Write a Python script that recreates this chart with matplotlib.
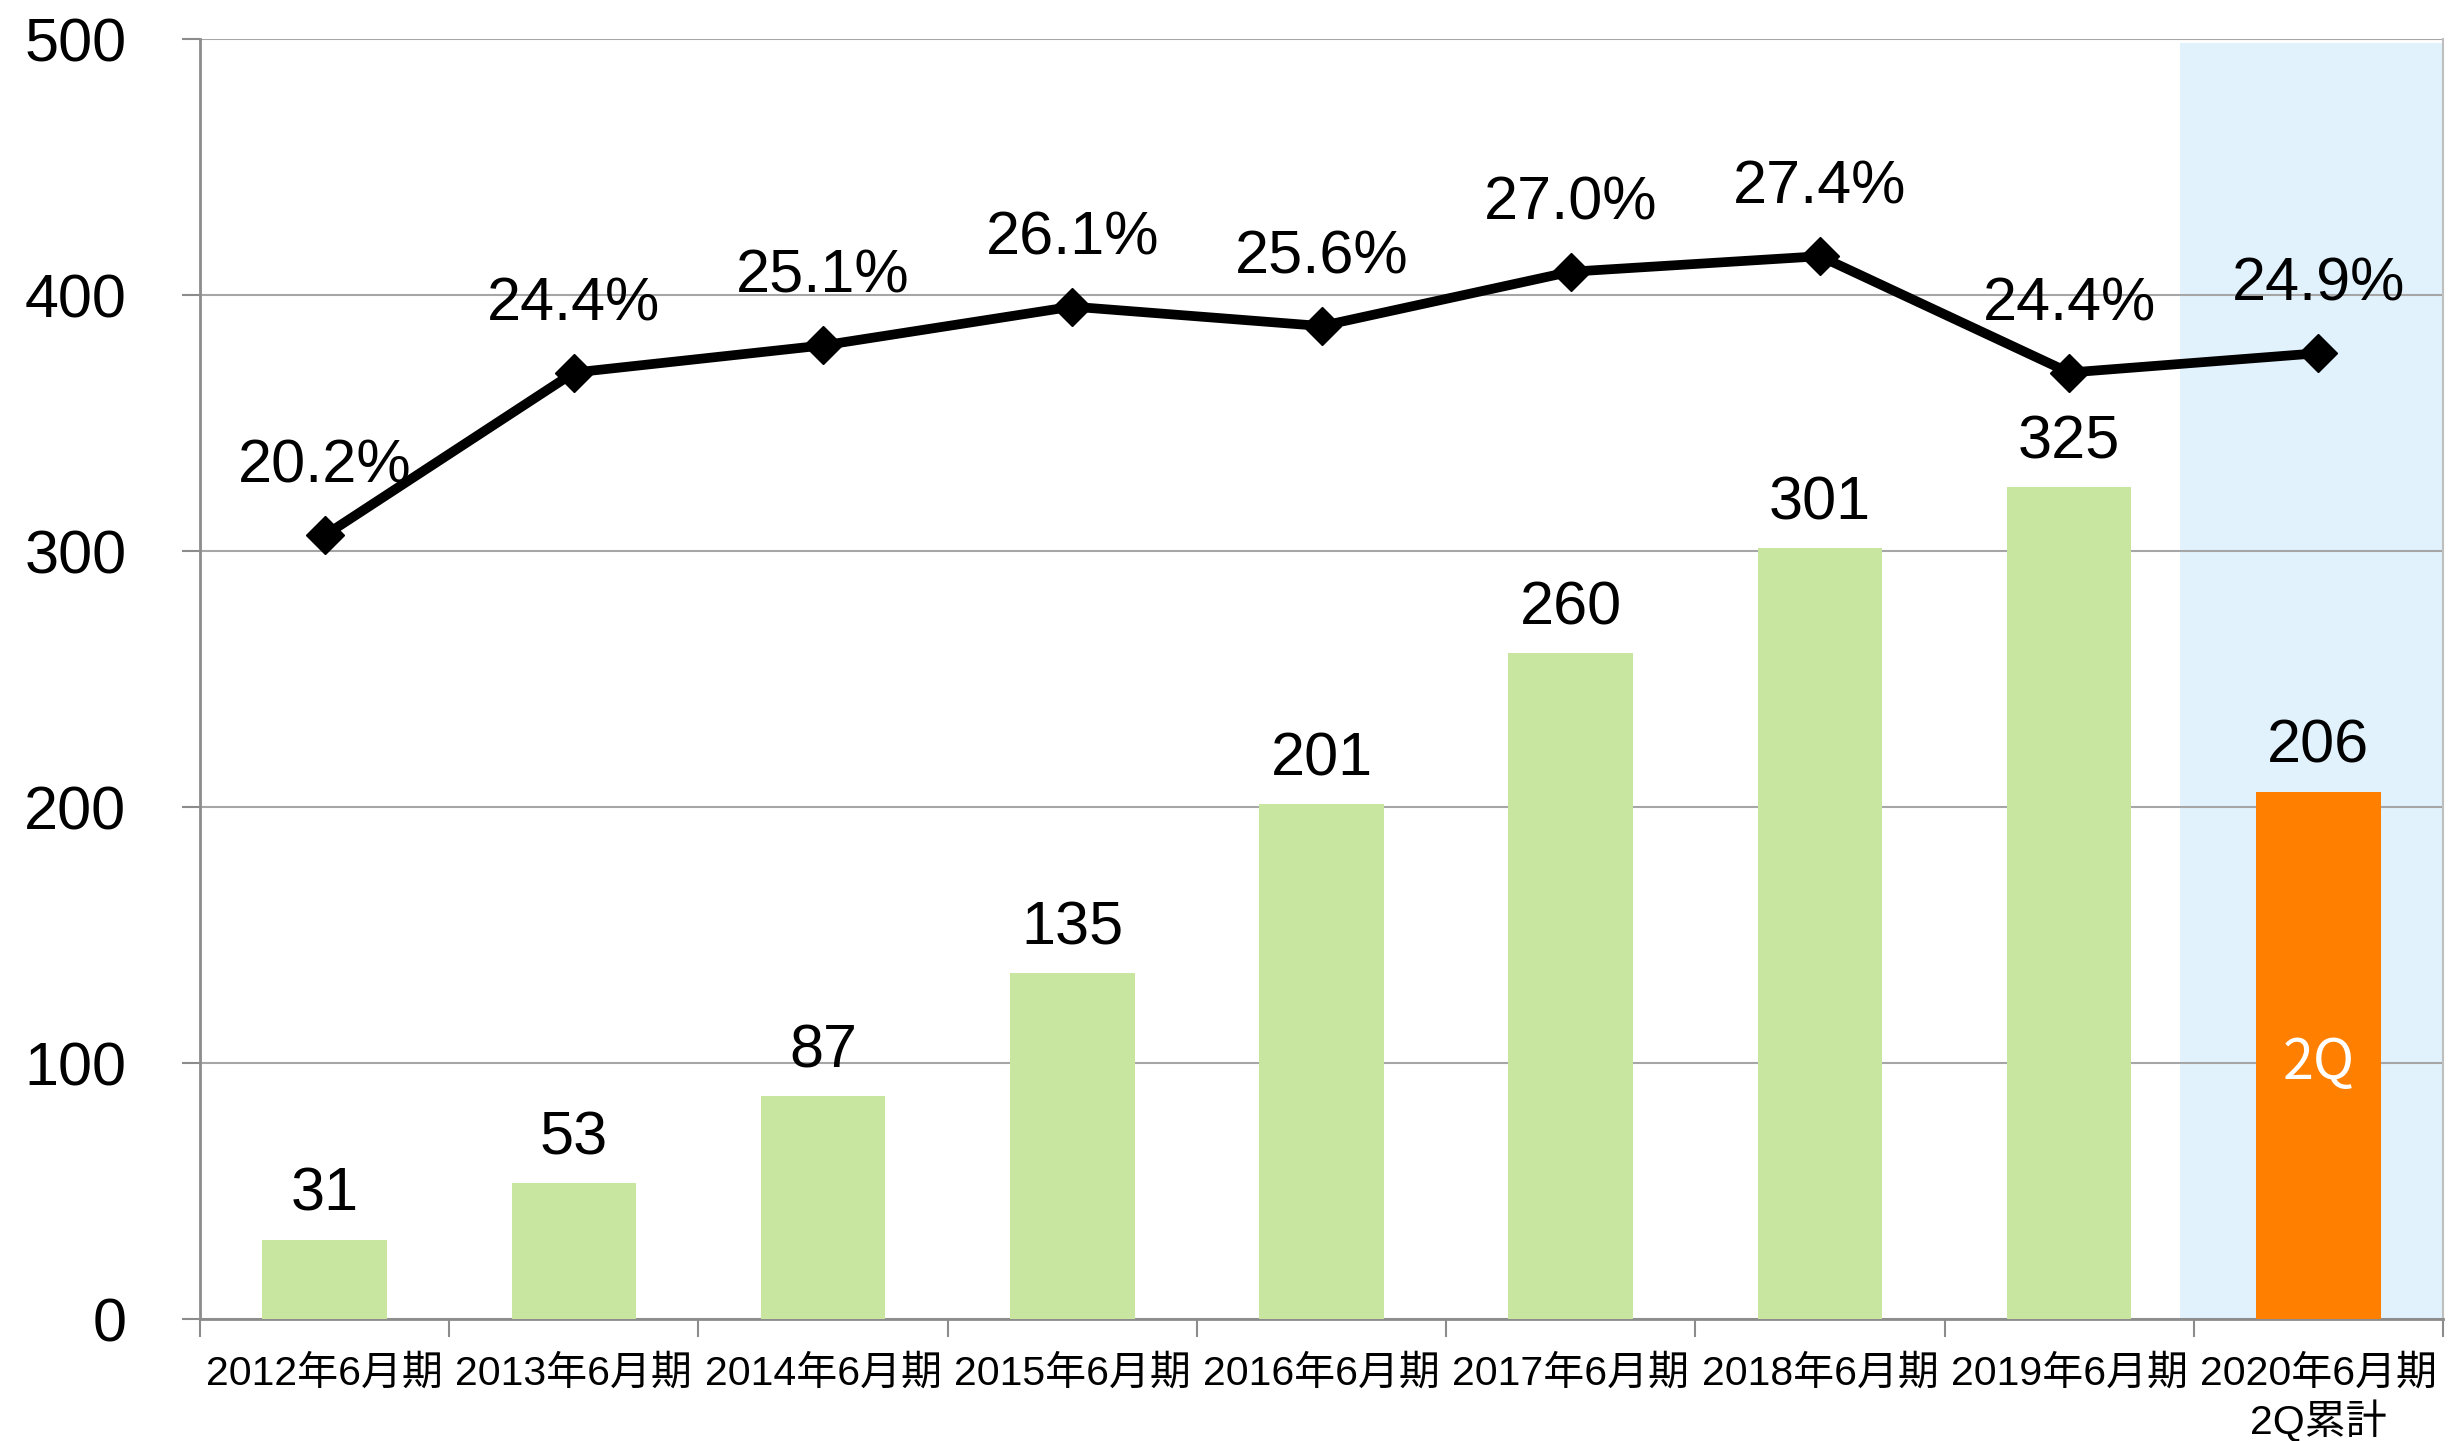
import numpy as np
import matplotlib.pyplot as plt

plt.rcParams['font.family'] = ['Liberation Sans', 'Noto Sans CJK JP', 'DejaVu Sans']

# データ
categories = ['2012年6月期', '2013年6月期', '2014年6月期', '2015年6月期',
              '2016年6月期', '2017年6月期', '2018年6月期', '2019年6月期',
              '2020年6月期\n2Q累計']
sales = [31, 53, 87, 135, 201, 260, 301, 325, 206]
margin = [20.2, 24.4, 25.1, 26.1, 25.6, 27.0, 27.4, 24.4, 24.9]
margin_labels = ['20.2%', '24.4%', '25.1%', '26.1%', '25.6%', '27.0%', '27.4%', '24.4%', '24.9%']

green = '#C8E6A0'
orange = '#FF8000'
light_blue = '#E1F2FD'
grid_gray = '#A6A6A6'
axis_gray = '#8C8C8C'

W, H = 2463, 1441
fig = plt.figure(figsize=(W / 100, H / 100), dpi=100)
ax = fig.add_axes([200 / W, (H - 1319) / H, 2243 / W, 1280 / H])

n = len(categories)
x = np.arange(n)

# 2Q累計の背景
ax.axvspan(n - 1 - 0.555, n - 0.5, ymin=0, ymax=0.997, color=light_blue, zorder=0, lw=0)

colors = [green] * (n - 1) + [orange]
ax.bar(x, sales, width=0.5, color=colors, zorder=3)

for xi, v in zip(x, sales):
    ax.annotate(str(v), (xi, v), xytext=(0, 32), textcoords='offset points',
                ha='center', va='center', fontsize=44, color='black', zorder=5)

ax.text(n - 1, 100, '2Q', color='white', ha='center', va='center', fontsize=40,
        family=['Noto Sans CJK JP'], zorder=5)

ax.set_xlim(-0.5, n - 0.5)
ax.set_ylim(0, 500)
ax.set_yticks([0, 100, 200, 300, 400, 500])
ax.yaxis.grid(True, color=grid_gray, lw=1.5, zorder=1)
ax.set_axisbelow(True)

ax.set_xticks(np.arange(-0.5, n, 1))
ax.set_xticklabels([])
ax.set_xticks(x, minor=True)
ax.set_xticklabels(categories, minor=True, fontsize=29.5)
ax.tick_params(axis='x', which='minor', length=0, pad=26)
ax.tick_params(axis='x', which='major', length=13, width=1.5, color=axis_gray)
ax.tick_params(axis='y', length=13, width=1.5, color=axis_gray, labelsize=44, pad=40)

for side in ['left', 'bottom']:
    ax.spines[side].set_color(axis_gray)
    ax.spines[side].set_linewidth(2)
ax.spines['right'].set_color('#BFBFBF')
ax.spines['right'].set_linewidth(1.5)
ax.spines['top'].set_visible(False)

# 利益率（第2軸、非表示）
ax2 = ax.twinx()
ax2.set_ylim(0, 33)
ax2.plot(x, margin, color='black', lw=7, marker='D', ms=19, zorder=6)
for xi, v, lab in zip(x, margin, margin_labels):
    ax2.annotate(lab, (xi, v), xytext=(0, 49), textcoords='offset points',
                 ha='center', va='center', fontsize=44, color='black')
ax2.axis('off')

fig.savefig('out.png', dpi=100)
